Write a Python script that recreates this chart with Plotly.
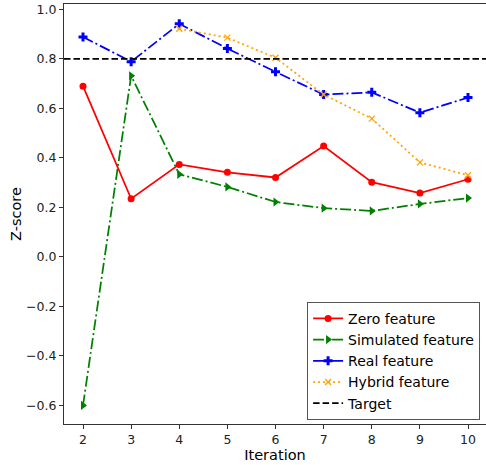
import plotly.graph_objects as go

iterations = [2, 3, 4, 5, 6, 7, 8, 9, 10]
zero_feature = [0.690, 0.235, 0.374, 0.342, 0.321, 0.448, 0.302, 0.258, 0.314]
simulated_feature = [-0.600, 0.732, 0.334, 0.283, 0.222, 0.197, 0.186, 0.214, 0.238]
real_feature = [0.889, 0.789, 0.942, 0.842, 0.748, 0.656, 0.665, 0.583, 0.644]
hybrid_iterations = [4, 5, 6, 7, 8, 9, 10]
hybrid_feature = [0.922, 0.886, 0.805, 0.656, 0.559, 0.382, 0.330]
target = 0.8

x_range = [1.605, 10.374]
y_range = [-0.675, 1.022]

dashdot = "11px,3px,2px,3px"

fig = go.Figure()

fig.add_trace(go.Scatter(
    x=iterations, y=zero_feature, name="Zero feature", mode="lines+markers",
    line=dict(color="red", width=1.75),
    marker=dict(symbol="circle", size=7, color="red"),
))
fig.add_trace(go.Scatter(
    x=iterations, y=simulated_feature, name="Simulated feature", mode="lines+markers",
    line=dict(color="green", width=1.75, dash=dashdot),
    marker=dict(symbol="triangle-right", size=8, color="green"),
))
fig.add_trace(go.Scatter(
    x=iterations, y=real_feature, name="Real feature", mode="lines+markers",
    line=dict(color="blue", width=1.75, dash=dashdot),
    marker=dict(symbol="cross", size=7.5, color="blue"),
))
fig.add_trace(go.Scatter(
    x=hybrid_iterations, y=hybrid_feature, name="Hybrid feature", mode="lines+markers",
    line=dict(color="orange", width=1.75, dash="2px,3px"),
    marker=dict(symbol="x-thin", size=6, color="orange", line=dict(color="orange", width=1.3)),
))
fig.add_trace(go.Scatter(
    x=x_range, y=[target, target], name="Target", mode="lines",
    line=dict(color="black", width=1.75, dash="6.5px,3px"),
))

axis_font = dict(family="DejaVu Sans", size=12.5, color="#222222")

fig.update_layout(
    width=486, height=465,
    margin=dict(l=64, r=0, t=4, b=41),
    plot_bgcolor="white", paper_bgcolor="white",
    font=dict(family="DejaVu Sans", color="black"),
    showlegend=True,
    legend=dict(
        x=0.986, y=0.01, xanchor="right", yanchor="bottom",
        bgcolor="white", bordercolor="#555555", borderwidth=1,
        font=dict(family="DejaVu Sans", size=14, color="black"),
        tracegroupgap=0, itemwidth=30,
    ),
    xaxis=dict(
        range=x_range, tickvals=iterations, showgrid=False, zeroline=False,
        showline=True, linecolor="#333333", linewidth=1.2, mirror=True,
        ticks="outside", ticklen=4, tickcolor="#333333", tickfont=axis_font,
        title=dict(text="Iteration", font=dict(family="DejaVu Sans", size=14.5), standoff=1),
    ),
    yaxis=dict(
        range=y_range, tickvals=[-0.6, -0.4, -0.2, 0.0, 0.2, 0.4, 0.6, 0.8, 1.0],
        tickformat=".1f", showgrid=False, zeroline=False,
        showline=True, linecolor="#333333", linewidth=1.2,
        ticks="outside", ticklen=4, tickcolor="#333333", tickfont=axis_font,
        title=dict(text="Z-score", font=dict(family="DejaVu Sans", size=14.5), standoff=0),
    ),
)

fig.write_html("out.html")
